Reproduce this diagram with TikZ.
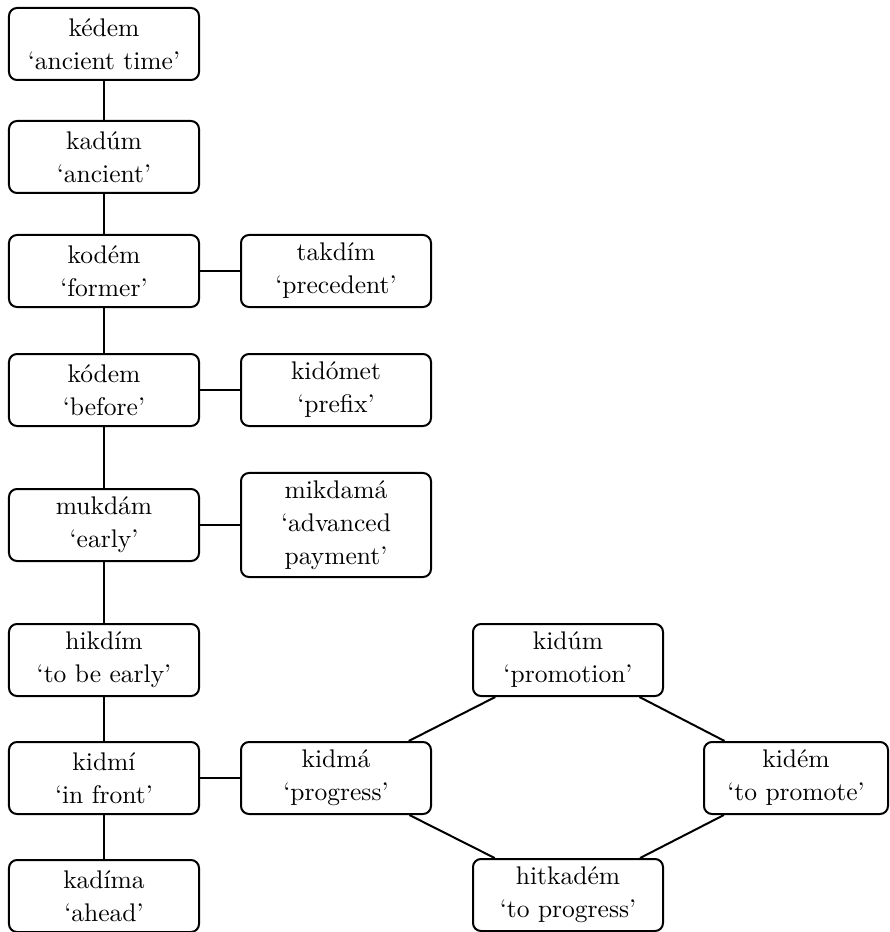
\documentclass[tikz,border=0pt]{standalone}
\usepackage{fontspec}
\usepackage{tikz}

\begin{document}
\begin{tikzpicture}[x=0.4pt,y=-0.4pt]
  \tikzset{word/.style = {shape=rectangle,draw,rounded corners=3.2pt,line width=0.8pt,minimum width=76pt,minimum height=28.8pt,inner sep=3pt,align=center,font=\fontsize{10.2}{13.2}\selectfont}}
  \tikzset{link/.style = {line width=0.8pt}}

  \useasboundingbox (0,0) rectangle (889,932);

  % main column
	\node[word] (kedem) at (104,44) {kédem\\`ancient time'};
	\node[word] (kadum) at (104,157) {kadúm\\`ancient'};
	\node[word] (kodem) at (104,271) {kodém\\`former'};
	\node[word] (kodemb) at (104,390) {kódem\\`before'};
	\node[word] (mukdam) at (104,525) {mukdám\\`early'};
	\node[word] (hikdim) at (104,660) {hikdím\\`to be early'};
	\node[word] (kidmi) at (104,778) {kidmí\\`in front'};
	\node[word] (kadima) at (104,896) {kadíma\\`ahead'};

  % side words
	\node[word] (takdim) at (336,271) {takdím\\`precedent'};
	\node[word] (kidomet) at (336,390) {kidómet\\`prefix'};
	\node[word] (mikdama) at (336,525) {mikdamá\\`advanced\\payment'};
	\node[word] (kidma) at (336,778) {kidmá\\`progress'};
	\node[word] (kidum) at (568,660) {kidúm\\`promotion'};
	\node[word,minimum width=73.6pt] (kidem) at (796,778) {kidém\\`to promote'};
	\node[word] (hitkadem) at (568,895) {hitkadém\\`to progress'};

       \foreach \from/\to in {kedem/kadum, kadum/kodem, kodem/kodemb, kodemb/mukdam, mukdam/hikdim, hikdim/kidmi, kidmi/kadima, kodem/takdim, kodemb/kidomet, mukdam/mikdama, kidmi/kidma, kidma/kidum, kidum/kidem, kidem/hitkadem, kidma/hitkadem}
    \draw[link] (\from) -- (\to);
\end{tikzpicture}
\end{document}
